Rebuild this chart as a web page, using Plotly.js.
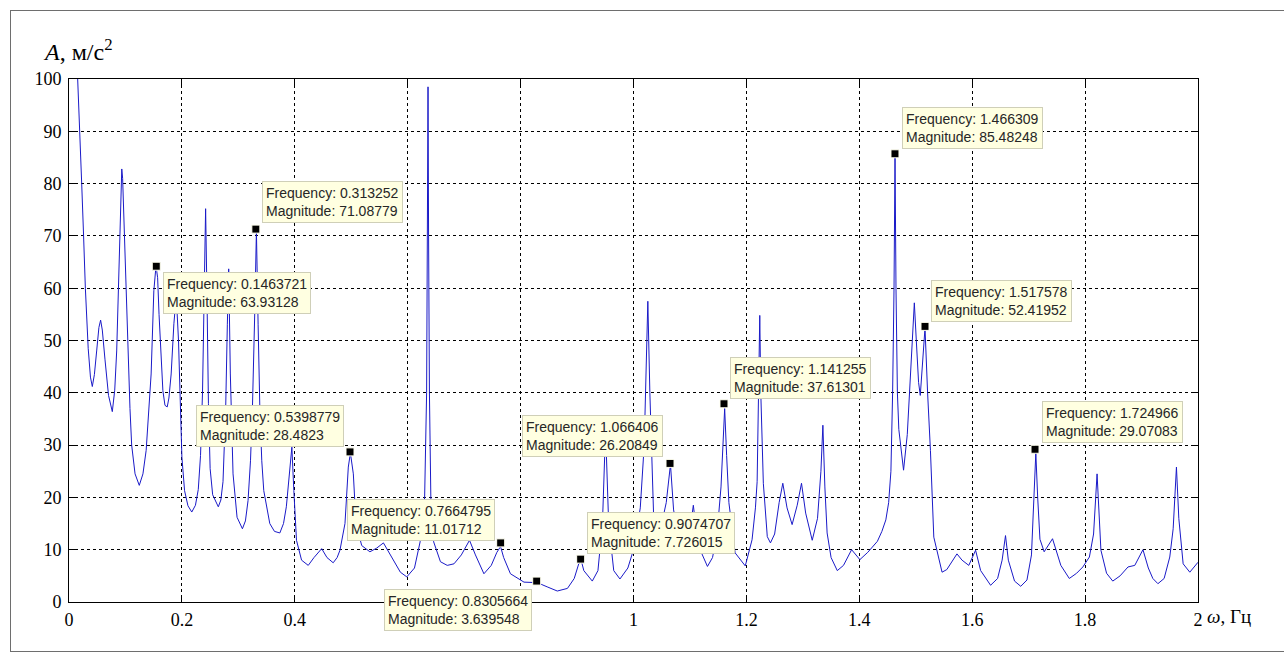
<!DOCTYPE html>
<html>
<head>
<meta charset="utf-8">
<script src="https://cdn.plot.ly/plotly-3.0.1.min.js"></script>
<style>
html,body{margin:0;padding:0;background:#fff;}
#wrap{position:relative;width:1284px;height:663px;overflow:hidden;}
#frame{position:absolute;left:10px;top:10px;width:1290px;height:642px;border:1px solid #6e6e6e;box-sizing:border-box;pointer-events:none;z-index:5;}
#chart{position:absolute;left:0;top:0;width:1284px;height:663px;}
</style>
</head>
<body>
<div id="wrap"><div id="chart"></div><div id="frame"></div></div>
<script>
// Spectrum (frequency, Hz) and amplitude (m/s^2)
const freq = [0.015,0.0195,0.0225,0.0253,0.029,0.034,0.038,0.0413,0.045,0.049,0.053,0.056,0.059,0.0638,0.070,0.0767,0.081,0.0845,0.0875,0.0903,0.0925,0.0935,0.095,0.097,0.0992,0.102,0.105,0.108,0.111,0.117,0.1245,0.131,0.1367,0.1415,0.1455,0.1503,0.1535,0.1555,0.157,0.1595,0.1615,0.1663,0.170,0.174,0.177,0.181,0.1858,0.190,0.194,0.197,0.200,0.2047,0.2107,0.2175,0.224,0.229,0.233,0.2365,0.2395,0.242,0.2445,0.247,0.250,0.2545,0.2645,0.269,0.2728,0.2776,0.2805,0.2829,0.2858,0.2906,0.2977,0.3072,0.3125,0.3172,0.3215,0.325,0.3292,0.332,0.335,0.338,0.3415,0.345,0.3557,0.364,0.3735,0.380,0.385,0.391,0.3948,0.3983,0.403,0.412,0.4238,0.434,0.4476,0.457,0.468,0.475,0.480,0.4889,0.4948,0.4985,0.5037,0.5084,0.5185,0.533,0.545,0.557,0.5747,0.587,0.5984,0.612,0.622,0.630,0.6335,0.635,0.636,0.637,0.6385,0.641,0.646,0.658,0.670,0.682,0.695,0.7095,0.720,0.735,0.748,0.758,0.7645,0.770,0.782,0.806,0.8296,0.847,0.865,0.883,0.895,0.903,0.9077,0.912,0.927,0.937,0.945,0.9505,0.956,0.965,0.976,0.990,1.000,1.012,1.019,1.0254,1.029,1.0355,1.048,1.058,1.0655,1.071,1.080,1.092,1.101,1.106,1.112,1.120,1.131,1.140,1.148,1.155,1.1615,1.165,1.169,1.180,1.198,1.210,1.216,1.219,1.2215,1.2237,1.2255,1.230,1.237,1.2426,1.250,1.258,1.2645,1.272,1.281,1.290,1.2976,1.305,1.3166,1.326,1.332,1.3355,1.339,1.343,1.350,1.361,1.372,1.3864,1.401,1.415,1.432,1.440,1.447,1.452,1.456,1.459,1.4615,1.4633,1.465,1.4675,1.470,1.4784,1.485,1.490,1.494,1.4975,1.501,1.505,1.508,1.5115,1.5164,1.521,1.526,1.532,1.5466,1.555,1.565,1.573,1.582,1.594,1.606,1.615,1.6326,1.645,1.653,1.659,1.664,1.675,1.686,1.697,1.705,1.709,1.7127,1.716,1.720,1.7275,1.735,1.7423,1.757,1.772,1.785,1.796,1.8076,1.815,1.8212,1.825,1.828,1.838,1.849,1.862,1.876,1.888,1.9025,1.912,1.920,1.929,1.940,1.950,1.956,1.9618,1.966,1.9737,1.9855,2.000];
const amp = [101,90,80,71.7,60,48.5,43,41.2,43.5,48,52.5,53.9,52,46.3,39.5,36.4,40.5,48,60,71.8,80,82.8,81,74,66,55,46.3,37,30,24.5,22.3,24.5,29,36,43.6,59.5,63.5,63.2,62,55,50,40.4,37.6,37.3,39,43.6,53.2,58.5,50,37.3,27.7,21.3,18.4,17.2,18.5,21.5,28,40,60,75.2,58,38,25.5,20.5,18.2,19.5,23,37.3,53,63.7,43.6,24.5,16.2,14,15.5,19.4,27,37.3,56,71,53,37.3,27,21.3,15,13.5,13.2,15,18.2,25.8,29.6,21.3,11.8,8,7,8.5,10.2,8.5,7.5,8.5,9.9,15,25.8,28.5,24.5,15,10.8,9.6,10.3,11.3,8,5.7,4.8,6.5,11.5,20,40,70,98.5,70,40,20,11.5,7.7,7.0,7.3,9,11.8,9,5.4,7,9.5,10.6,8.5,5.4,3.8,3.7,2.9,2.1,2.6,4.5,7.3,7.8,6,4.0,6,15,33,15,6,4.4,6.5,10,18,30,57.5,40,17,14,19,26.3,17.6,12.5,12,14.5,18.5,13,9.5,6.8,8.5,13,22,37,28,19,9.4,6.9,11.9,18,23,40,54.8,40,22.7,12.5,11.3,13,19,22.7,18,14.8,18.5,22.7,17,11.8,16,25,33.8,22,13.2,8.5,6.0,7,10,8.1,9.5,11.6,13.5,15.7,19,25,40,60,85.5,60,40,33,25.2,32,41.7,50,57.2,50,42,39.5,45,52.4,40,29,12.4,5.7,6.2,8,9.2,8,7.0,9.9,6,3.2,4.5,8,12.7,8,4,3.0,4.2,9,18,28.5,20,12,9.6,11,12.1,7,4.5,5.5,6.7,8.6,13,24.5,16,9.9,5.5,4.0,5,6.7,7,10,6.5,4.5,3.5,4.5,8.6,14,25.8,16,7.3,5.7,7.6];

// Data tips (marker positions, texts as printed)
const tipX = [0.1546,0.331,0.4978,0.7647,0.8285,0.9064,1.0647,1.1603,1.4632,1.5164,1.7113];
const tipY = [64.2,71.3,28.7,11.3,4.0,8.2,26.5,37.9,85.7,52.7,29.2];
const tipFreqText = ['0.1463721','0.313252','0.5398779','0.7664795','0.8305664','0.9074707','1.066406','1.141255','1.466309','1.517578','1.724966'];
const tipMagText = ['63.93128','71.08779','28.4823','11.01712','3.639548','7.726015','26.20849','37.61301','85.48248','52.41952','29.07083'];

// Axis ticks
const xTicks = [0,0.2,0.4,0.6,0.8,1,1.2,1.4,1.6,1.8,2];
const xTickText = ['0','0.2','0.4','0.6','0.8','1','1.2','1.4','1.6','1.8','2'];
const yTicks = [0,10,20,30,40,50,60,70,80,90,100];

// box placement for each tip (anchor side and pixel offsets)
const tipPlace = [
  ['left','top',7,-6],['left','bottom',6,6],['right','bottom',-6,5],['right','bottom',-6,2],
  ['right','top',-5,-8],['left','bottom',6,5],['right','bottom',-7,6],['left','bottom',6,5],
  ['left','bottom',7,5],['left','bottom',6,4],['left','bottom',7,6]
];

const serif = 'Liberation Serif, Times New Roman, serif';
const traces = [
  {x: freq, y: amp, type: 'scatter', mode: 'lines', line: {color: '#1a1ac8', width: 1}, hoverinfo: 'skip'},
  {x: tipX, y: tipY, type: 'scatter', mode: 'markers',
   marker: {symbol: 'square', size: 8, color: '#000', line: {color: '#fffff0', width: 1}}, hoverinfo: 'skip'}
];

const annotations = tipX.map((x, i) => ({
  x: x, y: tipY[i], xref: 'x', yref: 'y',
  text: 'Frequency: ' + tipFreqText[i] + '<br>Magnitude: ' + tipMagText[i],
  showarrow: false, align: 'left',
  xanchor: tipPlace[i][0], yanchor: tipPlace[i][1], xshift: tipPlace[i][2], yshift: tipPlace[i][3],
  font: {family: 'Liberation Sans, Arial, sans-serif', size: 14, color: '#262626'},
  bgcolor: '#ffffe1', bordercolor: '#cfcfb8', borderwidth: 1, borderpad: 3
}));
annotations.push({
  xref: 'paper', yref: 'paper', x: 1.0065, y: 0, xanchor: 'left', yanchor: 'top', yshift: -2,
  text: '<i>ω</i>, Гц', showarrow: false, font: {family: serif, size: 19, color: '#000'}
});
annotations.push({
  xref: 'paper', yref: 'paper', x: -0.025, y: 1.055, xanchor: 'left', yanchor: 'middle',
  text: '<i>A</i>, м/с<sup>2</sup>', showarrow: false, font: {family: serif, size: 24, color: '#000'}
});

const axisCommon = {
  showline: true, linecolor: '#000', linewidth: 1, mirror: 'allticks',
  ticks: 'inside', ticklen: 7, tickcolor: '#000', tickwidth: 1,
  showgrid: true, gridcolor: '#000', gridwidth: 1, griddash: '3px,3px',
  zeroline: false, tickfont: {family: serif, size: 18, color: '#000'}
};

const layout = {
  width: 1284, height: 663,
  margin: {l: 69, r: 86, t: 79, b: 61},
  paper_bgcolor: '#fff', plot_bgcolor: '#fff',
  showlegend: false,
  xaxis: Object.assign({}, axisCommon, {range: [0, 2], tickvals: xTicks, ticktext: xTickText, ticklabelstandoff: 1}),
  yaxis: Object.assign({}, axisCommon, {range: [0, 100], tickvals: yTicks, ticklabelstandoff: 3}),
  annotations: annotations
};

Plotly.newPlot('chart', traces, layout, {displayModeBar: false, staticPlot: true});
</script>
</body>
</html>
